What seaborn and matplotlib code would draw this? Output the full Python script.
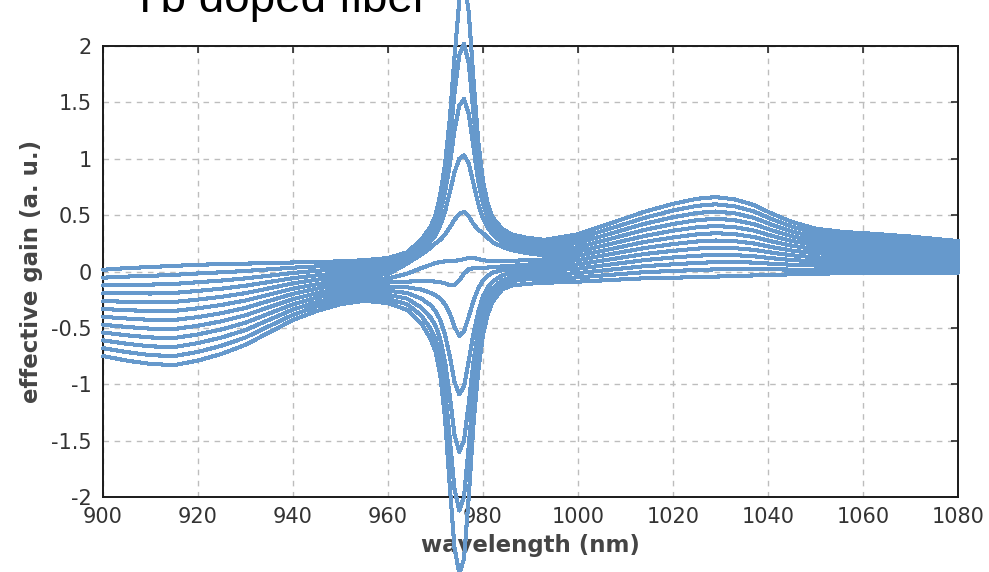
import matplotlib
matplotlib.use("Agg")
import matplotlib.pyplot as plt
from matplotlib.ticker import MultipleLocator, FuncFormatter
import pandas as pd
import seaborn as sns

# Sampled wavelengths (nm)
wavelength = [900, 905, 910, 915, 920, 925, 930, 935, 940, 945, 950, 955, 960,
              964, 967, 969,
              970, 971, 972, 973, 974, 975, 976, 977, 978, 979, 980, 981, 982,
              984, 986, 989, 993,
              1000, 1007, 1014, 1020, 1025, 1029, 1033, 1037, 1041, 1045, 1050,
              1056, 1062, 1070, 1080]

# Effective gain curves, from the unpumped fiber (level 0) to full inversion (level 11)
level = list(range(12))

gain_00 = [-0.75, -0.79, -0.82, -0.83, -0.79, -0.73, -0.65, -0.54, -0.43, -0.35, -0.29, -0.26, -0.28,
           -0.34, -0.46, -0.6,
           -0.71, -0.92, -1.3, -1.9, -2.45, -2.68, -2.55, -2.0, -1.35, -0.88, -0.56, -0.38, -0.27,
           -0.16, -0.125, -0.11, -0.1,
           -0.09, -0.075, -0.06, -0.055, -0.05, -0.045, -0.04, -0.035, -0.03, -0.025, -0.02,
           -0.015, -0.01, -0.01, -0.01]
gain_01 = [-0.68, -0.715, -0.742, -0.75, -0.713, -0.658, -0.585, -0.484, -0.384, -0.31, -0.255, -0.227, -0.244,
           -0.29, -0.39, -0.51,
           -0.6, -0.76, -1.04, -1.48, -1.93, -2.12, -2.0, -1.55, -1.05, -0.7, -0.45, -0.3, -0.21,
           -0.12, -0.085, -0.07, -0.065,
           -0.052, -0.029, -0.006, 0.005, 0.013, 0.019, 0.022, 0.022, 0.019, 0.017, 0.016,
           0.018, 0.021, 0.019, 0.015]
gain_02 = [-0.611, -0.641, -0.664, -0.67, -0.635, -0.585, -0.519, -0.428, -0.337, -0.271, -0.221, -0.195, -0.207,
           -0.24, -0.32, -0.41,
           -0.48, -0.6, -0.8, -1.1, -1.45, -1.6, -1.5, -1.17, -0.8, -0.52, -0.33, -0.22, -0.15,
           -0.08, -0.05, -0.035, -0.031,
           -0.014, 0.017, 0.047, 0.064, 0.076, 0.083, 0.084, 0.079, 0.068, 0.06, 0.053,
           0.051, 0.053, 0.048, 0.041]
gain_03 = [-0.541, -0.566, -0.585, -0.59, -0.558, -0.513, -0.454, -0.372, -0.291, -0.231, -0.186, -0.162, -0.171,
           -0.19, -0.24, -0.3,
           -0.35, -0.43, -0.56, -0.75, -0.98, -1.09, -1.02, -0.79, -0.55, -0.36, -0.22, -0.14, -0.09,
           -0.035, -0.012, 0.0, 0.004,
           0.025, 0.063, 0.101, 0.124, 0.14, 0.147, 0.145, 0.135, 0.117, 0.102, 0.089,
           0.085, 0.084, 0.077, 0.066]
gain_04 = [-0.472, -0.492, -0.507, -0.51, -0.481, -0.441, -0.388, -0.316, -0.245, -0.192, -0.152, -0.129, -0.135,
           -0.14, -0.16, -0.19,
           -0.21, -0.24, -0.29, -0.37, -0.49, -0.57, -0.53, -0.4, -0.26, -0.15, -0.08, -0.04, -0.01,
           0.01, 0.02, 0.03, 0.038,
           0.063, 0.109, 0.155, 0.183, 0.203, 0.211, 0.207, 0.192, 0.166, 0.144, 0.125,
           0.118, 0.115, 0.106, 0.092]
gain_05 = [-0.402, -0.417, -0.429, -0.43, -0.404, -0.369, -0.323, -0.26, -0.198, -0.152, -0.117, -0.096, -0.098,
           -0.09, -0.085, -0.085,
           -0.09, -0.095, -0.105, -0.12, -0.12, -0.08, -0.02, 0.02, 0.03, 0.03, 0.03, 0.035, 0.04,
           0.045, 0.05, 0.06, 0.073,
           0.101, 0.155, 0.208, 0.243, 0.266, 0.275, 0.269, 0.249, 0.215, 0.186, 0.162,
           0.151, 0.147, 0.135, 0.117]
gain_06 = [-0.333, -0.343, -0.351, -0.35, -0.326, -0.296, -0.257, -0.205, -0.152, -0.113, -0.083, -0.064, -0.062,
           -0.02, 0.03, 0.06,
           0.075, 0.085, 0.09, 0.09, 0.095, 0.1, 0.11, 0.12, 0.12, 0.11, 0.1, 0.095, 0.09,
           0.09, 0.095, 0.1, 0.107,
           0.139, 0.2, 0.262, 0.302, 0.329, 0.34, 0.331, 0.306, 0.265, 0.229, 0.198,
           0.184, 0.178, 0.165, 0.143]
gain_07 = [-0.263, -0.268, -0.273, -0.27, -0.249, -0.224, -0.192, -0.149, -0.105, -0.073, -0.048, -0.031, -0.025,
           0.07, 0.15, 0.21,
           0.25, 0.28, 0.33, 0.39, 0.46, 0.51, 0.53, 0.49, 0.42, 0.37, 0.34, 0.3, 0.26,
           0.22, 0.19, 0.165, 0.142,
           0.177, 0.246, 0.315, 0.362, 0.392, 0.404, 0.393, 0.363, 0.314, 0.271, 0.235,
           0.217, 0.21, 0.194, 0.168]
gain_08 = [-0.194, -0.194, -0.195, -0.19, -0.172, -0.152, -0.126, -0.093, -0.059, -0.034, -0.014, 0.002, 0.011,
           0.09, 0.18, 0.27,
           0.32, 0.41, 0.53, 0.7, 0.88, 1.0, 1.03, 0.96, 0.78, 0.6, 0.47, 0.39, 0.33,
           0.26, 0.22, 0.2, 0.176,
           0.215, 0.292, 0.369, 0.421, 0.455, 0.468, 0.455, 0.42, 0.363, 0.313, 0.271,
           0.25, 0.241, 0.223, 0.194]
gain_09 = [-0.124, -0.119, -0.116, -0.11, -0.095, -0.08, -0.061, -0.037, -0.013, 0.006, 0.021, 0.035, 0.047,
           0.12, 0.22, 0.32,
           0.39, 0.52, 0.7, 0.95, 1.25, 1.47, 1.53, 1.4, 1.1, 0.8, 0.6, 0.47, 0.39,
           0.3, 0.26, 0.235, 0.211,
           0.254, 0.338, 0.423, 0.481, 0.519, 0.532, 0.516, 0.476, 0.412, 0.355, 0.307,
           0.284, 0.272, 0.252, 0.219]
gain_10 = [-0.055, -0.045, -0.038, -0.03, -0.017, -0.007, 0.005, 0.019, 0.034, 0.045, 0.055, 0.067, 0.084,
           0.15, 0.25, 0.36,
           0.44, 0.6, 0.83, 1.15, 1.58, 1.92, 2.02, 1.85, 1.4, 0.98, 0.7, 0.53, 0.43,
           0.34, 0.3, 0.27, 0.245,
           0.292, 0.384, 0.476, 0.541, 0.582, 0.596, 0.578, 0.533, 0.461, 0.398, 0.344,
           0.317, 0.304, 0.281, 0.245]
gain_11 = [0.015, 0.03, 0.04, 0.05, 0.06, 0.065, 0.07, 0.075, 0.08, 0.085, 0.09, 0.1, 0.12,
           0.17, 0.28, 0.4,
           0.5, 0.68, 0.95, 1.35, 1.9, 2.4, 2.6, 2.3, 1.7, 1.15, 0.8, 0.6, 0.48,
           0.38, 0.33, 0.3, 0.28,
           0.33, 0.43, 0.53, 0.6, 0.645, 0.66, 0.64, 0.59, 0.51, 0.44, 0.38,
           0.35, 0.335, 0.31, 0.27]

curves = [gain_00, gain_01, gain_02, gain_03, gain_04, gain_05,
          gain_06, gain_07, gain_08, gain_09, gain_10, gain_11]

df = pd.concat(
    [pd.DataFrame({"wavelength": wavelength, "gain": g, "level": k})
     for k, g in zip(level, curves)],
    ignore_index=True,
)

sns.set_theme(style="white")
plt.rcParams["font.family"] = ["DejaVu Sans"]
plt.rcParams["axes.unicode_minus"] = False

W, H = 989, 572
fig = plt.figure(figsize=(W / 100, H / 100), dpi=100)
ax = fig.add_axes([103 / W, 1 - 497 / H, 855 / W, 451 / H])

sns.lineplot(data=df, x="wavelength", y="gain", units="level",
             estimator=None, color="#6699cc", linewidth=2.2,
             legend=False, ax=ax)
for ln in ax.lines:
    ln.set_clip_on(False)
    ln.set_zorder(3)
    ln.set_antialiased(False)

ax.set_xlim(900, 1080)
ax.set_ylim(-2, 2)
ax.xaxis.set_major_locator(MultipleLocator(20))
ax.yaxis.set_major_locator(MultipleLocator(0.5))
ax.yaxis.set_major_formatter(FuncFormatter(lambda v, _: f"{v:g}"))

ax.grid(True, color="#bdbdbd", linestyle=(0, (4, 4)), linewidth=1)
ax.set_axisbelow(True)
for sp in ax.spines.values():
    sp.set_color("#1a1a1a")
    sp.set_linewidth(1.4)
    sp.set_zorder(2.5)

ax.tick_params(direction="in", length=5, width=1.1, color="#1a1a1a",
               top=True, right=True, labelsize=15, labelcolor="#333333")
ax.tick_params(axis="x", pad=7)
ax.tick_params(axis="y", pad=8)

ax.set_xlabel("wavelength (nm)", fontsize=16.5, fontweight="bold",
              color="#454545", labelpad=5)
ax.set_ylabel("effective gain (a. u.)", fontsize=16.5, fontweight="bold",
              color="#454545", labelpad=6)

fig.text(130 / W, 1 - 12 / H, "Yb doped fiber", fontsize=33,
         family="Liberation Sans", color="black", va="baseline", ha="left")

fig.savefig("out.png", dpi=100)
